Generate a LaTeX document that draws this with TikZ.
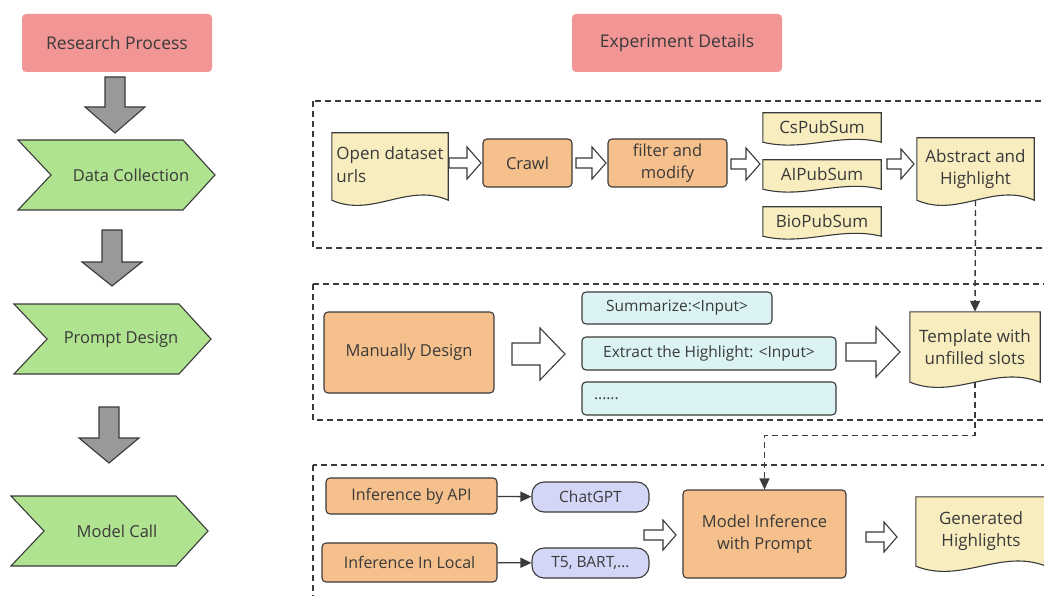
\documentclass[tikz,border=0pt]{standalone}
\usepackage{fontspec}
\setmainfont{Open Sans}
\usetikzlibrary{arrows.meta, backgrounds, calc}

\definecolor{pinkhead}{HTML}{F19595}
\definecolor{greenstep}{HTML}{B0E390}
\definecolor{orangebox}{HTML}{F5C08C}
\definecolor{yellowdoc}{HTML}{F7EDBF}
\definecolor{cyanbox}{HTML}{DBF3F3}
\definecolor{violetbox}{HTML}{D4D6F8}
\definecolor{linegray}{HTML}{3A3A3A}
\definecolor{arrowgray}{HTML}{999999}

\tikzset{
  header/.style={fill=pinkhead, rounded corners=4pt, minimum width=#1, minimum height=58,
    text=linegray, font=\fontsize{17.5}{20}\selectfont},
  chevron/.style={draw=linegray, fill=greenstep, line width=1.1pt},
  steptext/.style={text=linegray, font=\fontsize{16.5}{20}\selectfont},
  procbox/.style={draw=linegray, fill=orangebox, rounded corners=4pt, line width=1.1pt,
    text=linegray, align=center, font=\fontsize{16.5}{22}\selectfont},
  promptbox/.style={draw=linegray, fill=cyanbox, rounded corners=4pt, line width=1.1pt,
    text=linegray, font=\fontsize{15.5}{18}\selectfont},
  modelbox/.style={draw=linegray, fill=violetbox, rounded corners=12pt, line width=1.1pt,
    minimum width=117, minimum height=30, text=linegray, font=\fontsize{15.5}{18}\selectfont},
  doctext/.style={inner sep=0pt, text=linegray, align=center, font=\fontsize{17}{22}\selectfont},
  docline/.style={draw=linegray, fill=yellowdoc, line width=1.1pt},
  fatline/.style={draw=linegray, fill=white, line width=1.1pt},
  grayblock/.style={draw=linegray, fill=arrowgray, line width=1.1pt},
  frame/.style={draw=linegray, dash pattern=on 6pt off 4pt, line width=1.2pt},
  dasharrow/.style={draw=linegray, dash pattern=on 6pt off 4pt, line width=1.4pt,
    -{Triangle[length=11pt, width=10pt]}},
  solidarrow/.style={draw=linegray, line width=1.3pt, -{Triangle[length=11pt, width=10pt]}}
}

% document shape: name, center, width, height, wave amplitude, text
\newcommand{\docnode}[6]{%
  \node[doctext, minimum width=#3, minimum height=#4] (#1) at (#2) {#6};
  \begin{scope}[on background layer]
    \draw[docline] (#1.north west) -- (#1.north east) -- (#1.south east)
      .. controls ($(#1.south east)+(-0.35*#3,-2*#5)$) and ($(#1.south west)+(0.35*#3,2*#5)$) .. (#1.south west) -- cycle;
  \end{scope}
}

\begin{document}
\begin{tikzpicture}[x=1pt, y=-1pt]
  \useasboundingbox (0,0) rectangle (1044,596);

  % Headers
  \node[header=190] (process) at (117,43) {Research Process};
  \node[header=210] (details) at (677,43) {Experiment Details};

  % Research steps
  \foreach \name/\xl/\yc/\xt/\txt in {collect/18/175/131/Data Collection, prompt/14/339/121/Prompt Design, call/11/531/117/Model Call} {
      \draw[chevron] (\xl,\yc-35) -- (\xl+165,\yc-35) -- (\xl+197,\yc) -- (\xl+165,\yc+35)
        -- (\xl,\yc+35) -- (\xl+33,\yc) -- cycle;
      \node[steptext] (\name) at (\xt,\yc) {\txt};
    }

  % Gray arrows between steps
  \foreach \cx/\ya/\yb/\yc in {115/77/107/133, 112/230/262/286, 109/407/438/463} {
      \draw[grayblock] (\cx-10,\ya) -- (\cx+10,\ya) -- (\cx+10,\yb) -- (\cx+30,\yb) -- (\cx,\yc)
        -- (\cx-30,\yb) -- (\cx-10,\yb) -- cycle;
    }

  % Dashed frames
  \draw[frame] (313,101) rectangle (1060,248);
  \draw[frame] (313,284) rectangle (1060,420);
  \draw[frame] (313,465) rectangle (1060,610);

  % Data collection
  \docnode{urls}{390,166.5}{116}{67}{9}{\begin{tabular}{@{}l@{}}Open dataset\\[1pt] urls\end{tabular}}
  \node[procbox, minimum width=89, minimum height=48] (crawl) at (527.5,163) {Crawl};
  \node[procbox, minimum width=119, minimum height=48] (filter) at (667.5,163) {filter and\\ modify};
  \docnode{cspub}{822,127.5}{118}{29}{5}{CsPubSum}
  \docnode{aipub}{822,174.5}{118}{29}{5}{AIPubSum}
  \docnode{biopub}{822,221.5}{118}{29}{5}{BioPubSum}
  \docnode{abstract}{975.5,169}{117}{62}{9}{Abstract and\\ Highlight}

  % Prompt design
  \node[procbox, minimum width=170, minimum height=81] (manual) at (409,352.5) {Manually Design};
  \node[promptbox, minimum width=190, minimum height=32] (summ) at (677,308) {Summarize:<Input>};
  \node[promptbox, minimum width=254, minimum height=33] (extract) at (709,353.5) {Extract the Highlight: <Input>};
  \node[promptbox, minimum width=254, minimum height=33, text width=230, align=left] (more) at (709,398.5) {......};
  \docnode{template}{975,347}{130}{70}{9}{Template with\\ unfilled slots}

  % Model call
  \node[procbox, minimum width=171, minimum height=36, font=\fontsize{16}{19}\selectfont] (api) at (411.5,496) {Inference by API};
  \node[procbox, minimum width=175, minimum height=39, font=\fontsize{16}{19}\selectfont] (local) at (409.5,562.5) {Inference In Local};
  \node[modelbox] (chatgpt) at (590.5,497) {ChatGPT};
  \node[modelbox] (t5) at (590.5,563) {T5, BART,...};
  \node[procbox, minimum width=163, minimum height=88] (infer) at (764.5,534) {Model Inference\\ with Prompt};
  \docnode{generated}{981,531.5}{130}{69}{9}{Generated\\ Highlights}

  % Hollow arrows
  \foreach \xa/\xb/\yc/\s/\h/\l in {449/481/163/5/16/14, 576/606/163/5/16/14, 731/760/164/5/16/14,
      887/914/164/5/15/13, 512/565/354/11/26/25, 846/900/352/9/25/24, 644/676/535/5/15/13, 866/897/537/5/15/13} {
      \draw[fatline] (\xa,\yc-\s) -- (\xb-\l,\yc-\s) -- (\xb-\l,\yc-\h) -- (\xb,\yc) -- (\xb-\l,\yc+\h)
        -- (\xb-\l,\yc+\s) -- (\xa,\yc+\s) -- cycle;
    }

  % Connectors
  \draw[dasharrow] (abstract.south) -- (template.north);
  \draw[dasharrow] (template.south) -- ++(0,53) -| (infer.north);
  \draw[solidarrow] (api) -- (chatgpt);
  \draw[solidarrow] (local) -- (t5);

\end{tikzpicture}
\end{document}
